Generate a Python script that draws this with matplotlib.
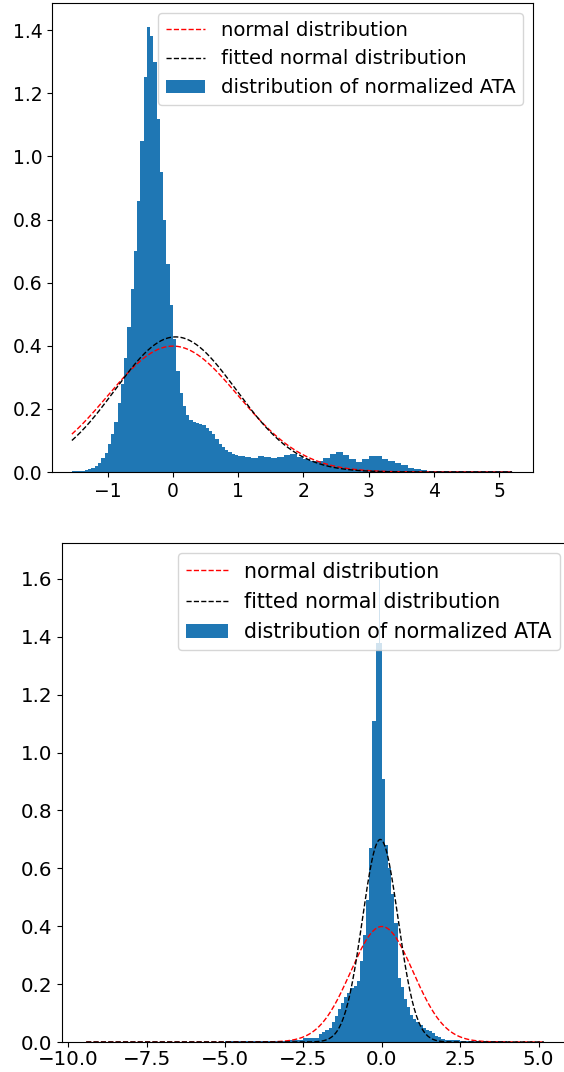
import numpy as np
import matplotlib
matplotlib.use("Agg")
import matplotlib.pyplot as plt

# ── top panel: histogram of normalized ATA ──────────────────────────────
top_edges = np.concatenate([np.arange(-1.55, 1.0, 0.05), np.arange(1.0, 5.21, 0.1)])
top_heights = [
    0.002, 0.002, 0.003, 0.004, 0.006, 0.008, 0.012, 0.02, 0.03, 0.045,
    0.06, 0.09, 0.12, 0.16, 0.22, 0.28, 0.36, 0.46, 0.58, 0.70,
    0.86, 1.05, 1.25, 1.41, 1.38, 1.30, 1.12, 0.95, 0.80, 0.66,
    0.53, 0.42, 0.32, 0.25, 0.21, 0.18, 0.165, 0.158, 0.155, 0.152,
    0.148, 0.14, 0.13, 0.12, 0.105, 0.09, 0.08, 0.07, 0.063, 0.058,
    0.055,
    # tail, 0.1 wide bins from 1.0
    0.052, 0.048, 0.045, 0.052, 0.048, 0.045, 0.048, 0.055, 0.058, 0.048,
    0.04, 0.036, 0.035, 0.045, 0.058, 0.062, 0.055, 0.04, 0.032, 0.042,
    0.05, 0.052, 0.042, 0.035, 0.03, 0.022, 0.014, 0.008, 0.005, 0.004,
    0.003, 0.003, 0.002, 0.002, 0.002, 0.002, 0.002, 0.002, 0.002, 0.002,
    0.002, 0.002,
]
top_range = (-1.55, 5.2)
top_fit = (0.04, 0.932)   # mu, sigma of fitted normal

# ── bottom panel ────────────────────────────────────────────────────────
bot_edges = np.concatenate([
    [-9.43, -7.0, -5.0, -3.5, -3.0, -2.5],
    np.arange(-2.0, -0.15, 0.1),
    [-0.1, -0.07],
    np.arange(0.0, 2.0, 0.1),
    [2.0, 2.5, 3.0, 4.0, 5.17],
])
bot_heights = [
    0.001, 0.001, 0.002, 0.004, 0.006, 0.014,
    0.028, 0.035, 0.04, 0.05, 0.07, 0.09, 0.115, 0.135, 0.155, 0.17,
    0.185, 0.195, 0.21, 0.28, 0.37, 0.49, 0.67, 1.11,
    1.38, 1.62, 1.38,
    0.91, 0.68, 0.60, 0.51, 0.41, 0.22, 0.19, 0.15, 0.12, 0.095,
    0.08, 0.068, 0.058, 0.05, 0.043, 0.037, 0.03, 0.022, 0.016, 0.012,
    0.007, 0.004, 0.002, 0.001,
]
bot_range = (-9.43, 5.17)
bot_fit = (-0.05, 0.57)

labels = ["normal distribution", "fitted normal distribution",
          "distribution of normalized ATA"]


def pdf(x, mu, sigma):
    return np.exp(-0.5 * ((x - mu) / sigma) ** 2) / (sigma * np.sqrt(2 * np.pi))


def panel(ax, edges, heights, xr, fit, fs_tick, fs_leg):
    x = np.linspace(xr[0], xr[1], 400)
    ax.plot(x, pdf(x, 0.0, 1.0), "r--", lw=1, label=labels[0])
    ax.plot(x, pdf(x, *fit), "k--", lw=1, label=labels[1])
    ax.stairs(heights, edges, fill=True, color="#1f77b4", label=labels[2])
    ax.tick_params(labelsize=fs_tick)
    ax.legend(loc="upper right", fontsize=fs_leg)


fig = plt.figure(figsize=(5.64, 10.72), dpi=100)

ax1 = fig.add_axes([52 / 564, 1 - 472 / 1072, 481 / 564, 469 / 1072])
panel(ax1, top_edges, top_heights, top_range, top_fit, 13.5, 14.1)
ax1.set_xlim(-1.855, 5.52)
ax1.set_ylim(0, 1.486)
ax1.set_yticks(np.arange(0, 1.41, 0.2))

ax2 = fig.add_axes([62 / 564, 1 - 1042 / 1072, 508 / 564, 499 / 1072])
panel(ax2, bot_edges, bot_heights, bot_range, bot_fit, 14.3, 14.8)
ax2.set_xlim(-10.2, 6.0)
ax2.set_ylim(0, 1.724)
ax2.set_xticks(np.arange(-10, 5.1, 2.5))
ax2.set_yticks(np.arange(0, 1.61, 0.2))
ax2.tick_params(axis="x", pad=2)

fig.savefig("out.png", dpi=100)
